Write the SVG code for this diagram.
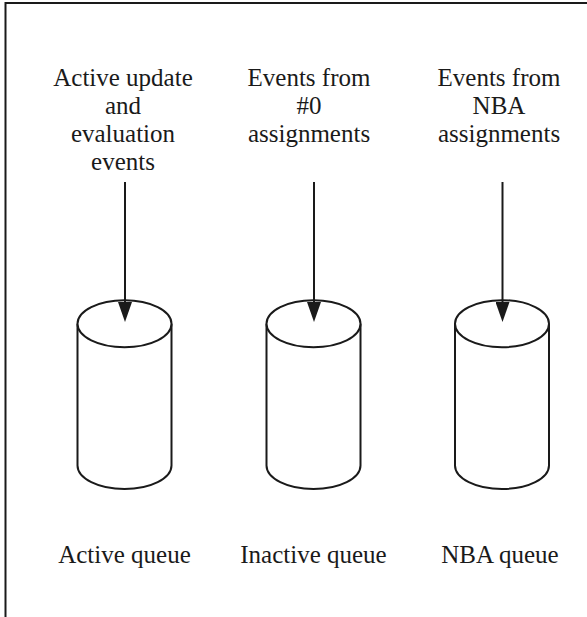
<svg xmlns="http://www.w3.org/2000/svg" width="587" height="617" viewBox="0 0 587 617">
  <style>
    .frame { fill: none; stroke: #1a1a1a; stroke-width: 2; }
    .cyl { fill: #ffffff; stroke: #1a1a1a; stroke-width: 2; }
    .edge { fill: none; stroke: #1a1a1a; stroke-width: 2; }
    text { font-family: 'Liberation Serif', 'DejaVu Serif', serif; font-size: 25px; fill: #1a1a1a; text-anchor: middle; }
  </style>
  <defs>
    <marker id="arrow" viewBox="0 0 20 14" markerWidth="20" markerHeight="14" refX="16" refY="7" orient="auto" markerUnits="userSpaceOnUse">
      <path d="M0,0 L20,7 L0,14 Z" fill="#1a1a1a"/>
    </marker>
  </defs>

  <rect width="587" height="617" fill="#ffffff"/>

  <!-- outer frame (open at right and bottom) -->
  <path class="frame" d="M5.5,617 L5.5,3 L587,3"/>

  <!-- source labels -->
  <g id="src-active" font-family="Liberation Serif, serif">
    <text x="123" y="86">Active update</text>
    <text x="123" y="114">and</text>
    <text x="123" y="142">evaluation</text>
    <text x="123" y="170">events</text>
  </g>
  <g id="src-inactive" font-family="Liberation Serif, serif">
    <text x="309" y="86">Events from</text>
    <text x="309" y="114">#0</text>
    <text x="309" y="142">assignments</text>
  </g>
  <g id="src-nba" font-family="Liberation Serif, serif">
    <text x="499" y="86">Events from</text>
    <text x="499" y="114">NBA</text>
    <text x="499" y="142">assignments</text>
  </g>

  <!-- queues -->
  <g id="active-queue">
    <path class="cyl" d="M77.5,323.7 L77.5,465.5 A47,23.5 0 0 0 171.5,465.5 L171.5,323.7"/>
    <ellipse class="cyl" cx="124.5" cy="323.7" rx="47" ry="23.5"/>
    <text x="124.5" y="563">Active queue</text>
  </g>
  <g id="inactive-queue">
    <path class="cyl" d="M266.5,323.7 L266.5,465.5 A47,23.5 0 0 0 360.5,465.5 L360.5,323.7"/>
    <ellipse class="cyl" cx="313.5" cy="323.7" rx="47" ry="23.5"/>
    <text x="313.5" y="563">Inactive queue</text>
  </g>
  <g id="nba-queue">
    <path class="cyl" d="M455,323.7 L455,465.5 A47,23.5 0 0 0 549,465.5 L549,323.7"/>
    <ellipse class="cyl" cx="502" cy="323.7" rx="47" ry="23.5"/>
    <text x="500" y="563">NBA queue</text>
  </g>

  <!-- connectors -->
  <g id="connectors">
    <line class="edge" x1="125" y1="182" x2="125" y2="318" marker-end="url(#arrow)"/>
    <line class="edge" x1="314" y1="182" x2="314" y2="318" marker-end="url(#arrow)"/>
    <line class="edge" x1="502.5" y1="182" x2="502.5" y2="318" marker-end="url(#arrow)"/>
  </g>
</svg>
